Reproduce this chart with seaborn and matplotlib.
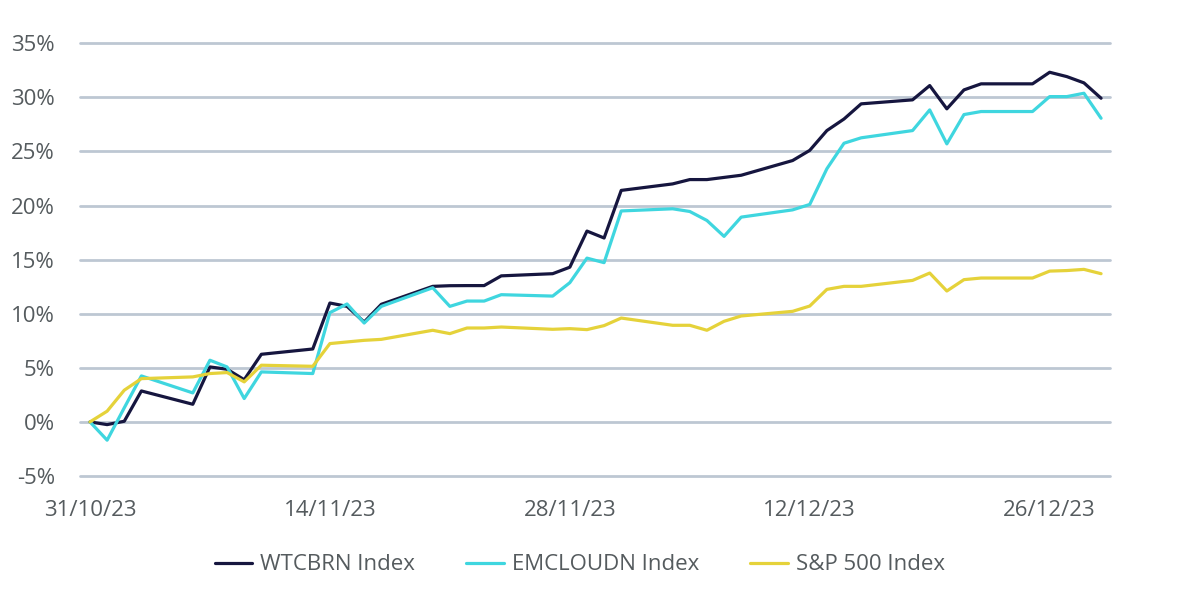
import pandas as pd
import matplotlib.pyplot as plt
import matplotlib.dates as mdates
import matplotlib.ticker as mticker
import seaborn as sns

# business days, 31/10/23 - 29/12/23
dates = pd.bdate_range("2023-10-31", "2023-12-29")

wtcbrn = [0.0, -0.25, 0.06, 2.86, 1.63, 5.08, 4.87, 3.9, 6.25, 6.74, 10.99,
          10.68, 9.23, 10.87, 12.53, 12.59, 12.6, 12.6, 13.5, 13.7, 14.3, 17.64,
          17.0, 21.4, 22.0, 22.4, 22.4, 22.6, 22.8, 24.16, 25.1, 26.93, 28.0,
          29.4, 29.77, 31.09, 28.94, 30.69, 31.25, 31.25, 32.32, 31.92, 31.34, 29.92]
emcloudn = [0.0, -1.69, 1.3, 4.25, 2.68, 5.7, 5.08, 2.16, 4.62, 4.47, 10.1,
            10.9, 9.14, 10.68, 12.4, 10.68, 11.17, 11.17, 11.76, 11.63, 12.87, 15.14,
            14.72, 19.5, 19.7, 19.45, 18.62, 17.15, 18.93, 19.6, 20.1, 23.4, 25.76,
            26.26, 26.93, 28.84, 25.7, 28.41, 28.69, 28.69, 30.07, 30.07, 30.38, 28.07]
spx = [0.0, 0.99, 2.93, 4.0, 4.16, 4.47, 4.56, 3.7, 5.24, 5.14, 7.24,
       7.39, 7.54, 7.63, 8.47, 8.16, 8.68, 8.68, 8.77, 8.56, 8.62, 8.53,
       8.9, 9.6, 8.93, 8.93, 8.47, 9.3, 9.79, 10.22, 10.71, 12.25, 12.53,
       12.53, 13.08, 13.76, 12.1, 13.15, 13.3, 13.3, 13.94, 13.99, 14.1, 13.7]

series_names = ["WTCBRN Index", "EMCLOUDN Index", "S&P 500 Index"]
colors = ["#16163f", "#3fd6df", "#e5d23a"]
tick_dates = ["2023-10-31", "2023-11-14", "2023-11-28", "2023-12-12", "2023-12-26"]

df = pd.DataFrame({"Date": dates, series_names[0]: wtcbrn,
                   series_names[1]: emcloudn, series_names[2]: spx})
long_df = df.melt(id_vars="Date", var_name="Index", value_name="Return")

sns.set_style("white")
plt.rcParams["font.family"] = ["Open Sans", "DejaVu Sans"]

fig = plt.figure(figsize=(12, 6.01), dpi=100)
ax = fig.add_axes([0.0667, 0.208, 0.858, 0.72])

for y in range(-5, 40, 5):
    ax.axhline(y, color="#bdc7d3", lw=2, zorder=0, clip_on=False)

sns.lineplot(data=long_df, x="Date", y="Return", hue="Index",
             hue_order=series_names, palette=colors, linewidth=2.3, ax=ax)

start = pd.Timestamp("2023-10-31")
ax.set_xlim(start - pd.Timedelta(days=0.58), start + pd.Timedelta(days=59.5))
ax.set_ylim(-5, 35)
ax.set_yticks(range(-5, 40, 5))
ax.yaxis.set_major_formatter(mticker.FuncFormatter(lambda v, p: f"{v:.0f}%"))
ax.set_xticks(pd.to_datetime(tick_dates))
ax.xaxis.set_major_formatter(mdates.DateFormatter("%d/%m/%y"))
ax.tick_params(axis="both", length=0, labelsize=16, colors="#555b5e")
ax.tick_params(axis="y", pad=18)
ax.tick_params(axis="x", pad=17)
ax.set_xlabel("")
ax.set_ylabel("")
sns.despine(ax=ax, left=True, bottom=True)

ax.get_legend().remove()
handles, labels = ax.get_legend_handles_labels()
leg = fig.legend(handles, labels, loc="center", bbox_to_anchor=(0.483, 0.06),
                 ncol=3, frameon=False, fontsize=16, handlelength=1.7,
                 handletextpad=0.35, columnspacing=2.3)
for t in leg.get_texts():
    t.set_color("#555b5e")

fig.savefig("out.png", dpi=100)
